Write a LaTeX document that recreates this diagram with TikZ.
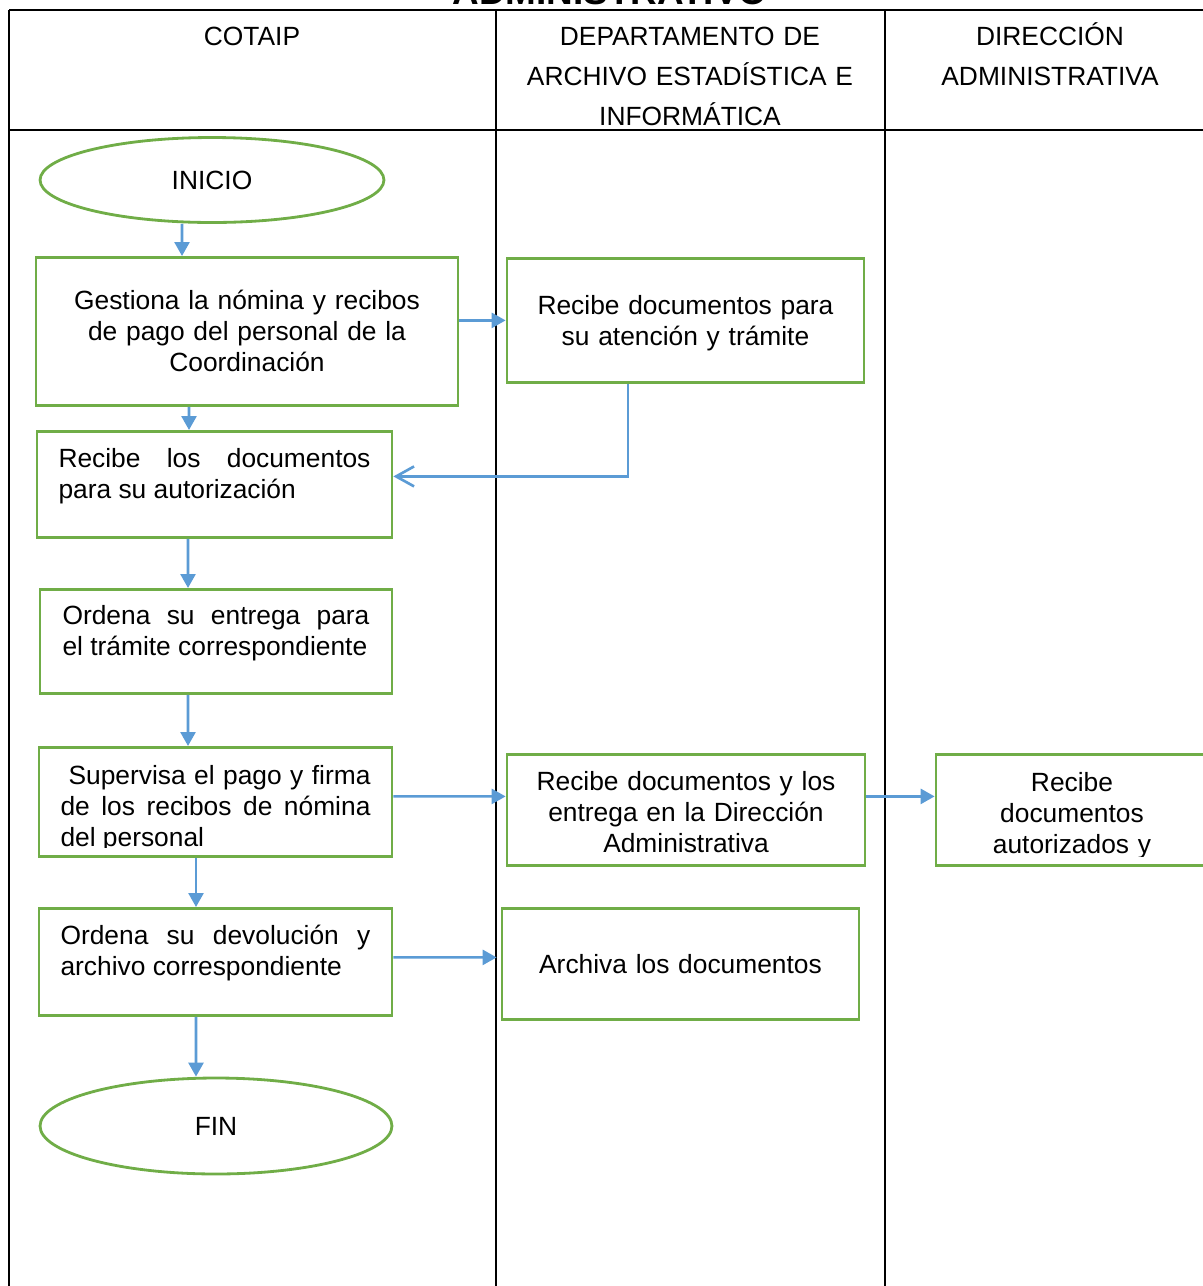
\documentclass[tikz,border=0pt]{standalone}
\usepackage{fontspec}
\setmainfont{Liberation Sans}
\usetikzlibrary{arrows.meta,shapes.geometric}

\definecolor{verde}{HTML}{70AD47}
\definecolor{azul}{HTML}{5B9BD5}
\newcommand{\letracaja}{\fontsize{15}{17.6}\selectfont}
\newcommand{\letraencab}{\fontsize{15}{22.8}\selectfont}

\tikzset{
	caja/.style={draw=verde, line width=1.6pt, inner sep=0pt, font=\letracaja, anchor=north},
	cajacentro/.style={caja, align=center},
	cajajust/.style={caja, align=justify},
	ovalo/.style={draw=verde, line width=1.6pt, ellipse, inner sep=0pt, font=\letracaja},
	flecha/.style={azul, line width=1.5pt, -{Triangle[length=0.28cm,width=0.3cm]}},
	regreso/.style={azul, line width=1.5pt, -{Straight Barb[length=0.36cm,width=0.4cm]}},
	tabla/.style={black, line width=1.2pt},
	encab/.style={font=\letraencab, align=center, text width=7cm, inner sep=0pt, anchor=north, text height=0.7cm}
}

\begin{document}
\begin{tikzpicture}[x=0.02cm, y=-0.02cm]

			\path[use as bounding box, clip] (0,0) rectangle (1203,1286);

			\node[font=\bfseries\fontsize{21}{25}\selectfont, anchor=base] (titulo) at (610,4) {ADMINISTRATIVO};

			\draw[tabla] (9,10) -- (1210,10);
			\draw[tabla] (9,130) -- (1210,130);
			\draw[tabla] (9,10) -- (9,1290);
			\draw[tabla] (496,10) -- (496,1290);
			\draw[tabla] (885,10) -- (885,1290);

			\node[encab] (cotaip) at (252,10) {COTAIP};
			\node[encab] (depto) at (690,10) {DEPARTAMENTO DE\\ARCHIVO ESTADÍSTICA E\\INFORMÁTICA};
			\node[encab] (direccion) at (1050,10) {DIRECCIÓN\\ADMINISTRATIVA};

			\node[ovalo, minimum width=6.88cm, minimum height=1.7cm] (inicio) at (212,180) {INICIO};

			\node[cajacentro, minimum width=8.44cm, text width=8.04cm, text height=1.04cm, text depth=1.92cm] (gestiona) at (247,256) {Gestiona la nómina y recibos\\de pago del personal de la\\Coordinación};
			\node[cajacentro, minimum width=7.14cm, text width=6.8cm, text height=1.12cm, text depth=1.36cm] (tramite) at (685.5,257) {Recibe documentos para\\su atención y trámite};

			\node[cajajust, minimum width=7.1cm, text width=6.24cm, text height=0.72cm, text depth=1.4cm] (autorizacion) at (214.5,430) {Recibe los documentos\linebreak para su autorización};
			\node[cajajust, minimum width=7.04cm, text width=6.14cm, text height=0.7cm, text depth=1.38cm] (entrega) at (216,588) {Ordena su entrega para\linebreak el trámite correspondiente};
			\node[cajajust, minimum width=7.06cm, text width=6.2cm, text height=0.74cm, text depth=1.44cm] (supervisa) at (215.5,746) {\hspace*{0.16cm}Supervisa el pago y firma\linebreak de los recibos de nómina\linebreak del personal};
			\node[cajajust, minimum width=7.06cm, text width=6.2cm, text height=0.72cm, text depth=1.42cm] (devolucion) at (215.5,907) {Ordena su devolución y\linebreak archivo correspondiente};

			\node[cajacentro, minimum width=7.16cm, text width=6.8cm, text height=0.72cm, text depth=1.5cm] (entregadir) at (686,753) {Recibe documentos y los\\entrega en la Dirección\\Administrativa};
			\node[cajacentro, minimum width=5.44cm, text width=5.2cm, text height=0.74cm, text depth=1.48cm] (autorizados) at (1072,753) {Recibe\\documentos\\autorizados y};
			\node[cajacentro, minimum width=7.14cm, text width=6.8cm, text height=1.3cm, text depth=0.92cm] (archiva) at (680.5,907) {Archiva los documentos};

			\node[ovalo, minimum width=7.04cm, minimum height=1.92cm] (fin) at (216,1126) {FIN};

			\fill[white] (42,848) rectangle (389,852.5);
			\fill[white] (939,856.5) rectangle (1203,862.5);

			\draw[flecha] ([xshift=-0.6cm]inicio.south) -- ([xshift=-1.3cm]gestiona.north);
			\draw[flecha] (gestiona.east |- tramite.west) -- (tramite.west);
			\draw[flecha] ([xshift=-1.16cm]gestiona.south) -- ([xshift=-0.51cm]autorizacion.north);
			\draw[regreso] ([xshift=-1.15cm]tramite.south) |- ([yshift=0.16cm]autorizacion.east);
			\draw[flecha] ([xshift=-0.53cm]autorizacion.south) -- ([xshift=-0.56cm]entrega.north);
			\draw[flecha] ([xshift=-0.56cm]entrega.south) -- ([xshift=-0.55cm]supervisa.north);
			\draw[flecha] ([yshift=0.11cm]supervisa.east) -- ([yshift=0.27cm]entregadir.west);
			\draw[flecha] ([yshift=0.27cm]entregadir.east) -- ([yshift=0.27cm]autorizados.west);
			\draw[flecha] ([xshift=-0.39cm]supervisa.south) -- ([xshift=-0.39cm]devolucion.north);
			\draw[flecha, shorten >=0.08cm] ([yshift=0.09cm]devolucion.east) -- ([yshift=0.13cm]archiva.west);
			\draw[flecha] ([xshift=-0.39cm]devolucion.south) -- ([xshift=-0.4cm]fin.north);

\end{tikzpicture}
\end{document}
